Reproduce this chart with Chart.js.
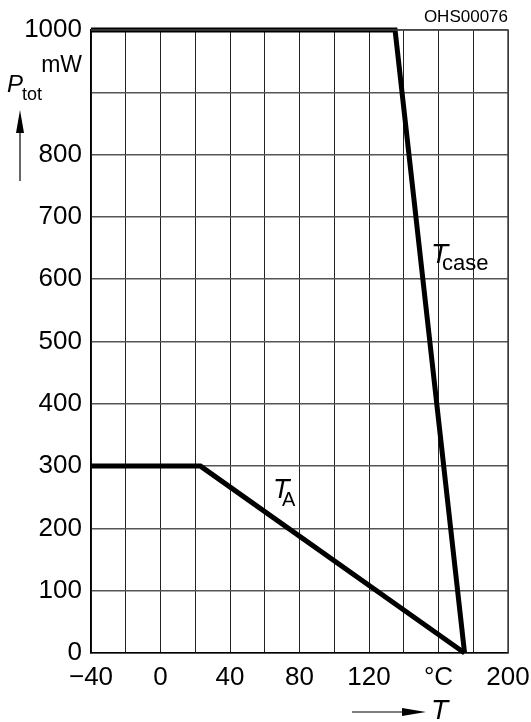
<!DOCTYPE html>
<html>
<head>
<meta charset="utf-8">
<script src="https://cdn.jsdelivr.net/npm/chart.js@4"></script>
<style>
html,body{margin:0;padding:0;background:#fff;}
#wrap{width:531px;height:722px;position:relative;}
</style>
</head>
<body>
<div id="wrap"><canvas id="c" width="531" height="722"></canvas></div>
<script>
// Data
const tCaseT = [-40, 135, 175];
const tCaseP = [1000, 1000, 0];
const tAmbT = [-40, 23, 175];
const tAmbP = [300, 300, 0];
const xTickLabels = {"-40": "\u221240", "0": "0", "40": "40", "80": "80", "120": "120", "160": "\u00B0C", "200": "200"};
const yTickLabels = {"0":"0","100":"100","200":"200","300":"300","400":"400","500":"500","600":"600","700":"700","800":"800","900":"","1000":"1000"};

const FONT = "'Liberation Sans Narrow', 'Liberation Sans', Arial, sans-serif";

const annot = {
  id: 'annot',
  afterDraw(chart) {
    const ctx = chart.ctx;
    ctx.save();
    ctx.fillStyle = '#000';
    ctx.strokeStyle = '#000';
    ctx.textBaseline = 'alphabetic';
    // code top right
    ctx.font = '17px ' + FONT;
    ctx.textAlign = 'right';
    ctx.fillText('OHS00076', 508, 22);
    // mW
    ctx.font = '23px ' + FONT;
    ctx.fillText('mW', 82, 72);
    // P_tot
    ctx.textAlign = 'left';
    ctx.font = 'italic 24px ' + FONT;
    ctx.fillText('P', 7, 92);
    ctx.font = '18px ' + FONT;
    ctx.fillText('tot', 22, 100);
    // up arrow
    ctx.lineWidth = 1.2;
    ctx.beginPath(); ctx.moveTo(20, 181); ctx.lineTo(20, 125); ctx.stroke();
    ctx.beginPath(); ctx.moveTo(20, 110); ctx.lineTo(16, 133); ctx.lineTo(24, 133); ctx.closePath(); ctx.fill();
    // right arrow and T
    ctx.beginPath(); ctx.moveTo(352, 712); ctx.lineTo(410, 712); ctx.stroke();
    ctx.beginPath(); ctx.moveTo(426, 712); ctx.lineTo(402, 708); ctx.lineTo(402, 716); ctx.closePath(); ctx.fill();
    ctx.font = 'italic 28px ' + FONT;
    ctx.fillText('T', 431, 719);
    // T_case
    ctx.font = 'italic 28px ' + FONT;
    ctx.fillText('T', 431, 263);
    ctx.font = '22px ' + FONT;
    ctx.fillText('case', 442, 270);
    // T_A
    ctx.font = 'italic 27px ' + FONT;
    ctx.fillText('T', 273, 498);
    ctx.font = '20px ' + FONT;
    ctx.fillText('A', 282, 506);
    ctx.restore();
  }
};

new Chart(document.getElementById('c'), {
  type: 'scatter',
  data: {
    datasets: [
      {
        label: 'T_case',
        data: tCaseT.map((t, i) => ({x: t, y: tCaseP[i]})),
        showLine: true, borderColor: '#000', borderWidth: 5, pointRadius: 0,
        borderJoinStyle: 'miter', borderCapStyle: 'butt', clip: false
      },
      {
        label: 'T_A',
        data: tAmbT.map((t, i) => ({x: t, y: tAmbP[i]})),
        showLine: true, borderColor: '#000', borderWidth: 5, pointRadius: 0,
        borderJoinStyle: 'miter', borderCapStyle: 'butt', clip: false
      }
    ]
  },
  options: {
    responsive: false,
    animation: false,
    devicePixelRatio: 1,
    layout: {padding: {left: 0, right: 23, top: 30, bottom: 0}},
    plugins: {legend: {display: false}, tooltip: {enabled: false}},
    scales: {
      x: {
        type: 'linear', min: -40, max: 200,
        afterFit(s) { s.height = 69; s.paddingLeft = 0; s.paddingRight = 0; },
        border: {display: true, color: '#000', width: 1.5},
        grid: {color: '#222', lineWidth: 1, drawTicks: false},
        ticks: {
          stepSize: 20, padding: 9, color: '#000', maxRotation: 0, autoSkip: false,
          font: {family: FONT, size: 26},
          callback: (v) => (xTickLabels[String(v)] !== undefined ? xTickLabels[String(v)] : '')
        }
      },
      y: {
        type: 'linear', min: 0, max: 1000,
        afterFit(s) { s.width = 91; s.paddingTop = 0; s.paddingBottom = 0; },
        border: {display: true, color: '#000', width: 1.5},
        grid: {color: '#555', lineWidth: 1.5, drawTicks: false},
        ticks: {
          stepSize: 100, padding: 9, color: '#000', autoSkip: false,
          font: {family: FONT, size: 26},
          callback: (v) => (yTickLabels[String(v)] !== undefined ? yTickLabels[String(v)] : '')
        }
      }
    }
  },
  plugins: [annot, {
    id: 'frame',
    afterDatasetsDraw(chart) {
      const a = chart.chartArea, ctx = chart.ctx;
      ctx.save();
      ctx.strokeStyle = '#444'; ctx.lineWidth = 1.5;
      ctx.beginPath();
      ctx.moveTo(a.left, a.top); ctx.lineTo(a.right, a.top); ctx.lineTo(a.right, a.bottom);
      ctx.stroke();
      ctx.restore();
    }
  }]
});
</script>
</body>
</html>
